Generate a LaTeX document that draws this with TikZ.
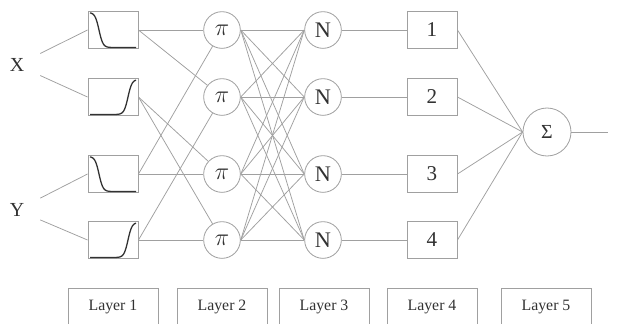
\documentclass[tikz,border=0pt]{standalone}
\usepackage{fontspec}
\setmainfont{Liberation Serif}
\usepackage{tikz}
\definecolor{wire}{RGB}{160,160,160}
\definecolor{ink}{RGB}{50,50,50}

\begin{document}
\begin{tikzpicture}[x=0.03cm,y=-0.03cm,
        wire/.style={draw=wire,line width=0.65pt},
        mfbox/.style={draw=wire,line width=0.8pt,minimum width=1.5cm,minimum height=1.1cm,inner sep=0pt},
        prod/.style={circle,draw=wire,line width=0.7pt,minimum size=1.1cm,inner sep=0pt,text=ink,font=\fontsize{19}{22}\selectfont},
        rulebox/.style={draw=wire,line width=0.8pt,minimum width=1.5cm,minimum height=1.1cm,inner sep=0pt,text=ink,font=\fontsize{18}{21}\selectfont},
        layerbox/.style={draw=wire,line width=0.6pt,minimum width=2.7cm,minimum height=1.14cm,text=ink,font=\fontsize{13.5}{16}\selectfont},
        invar/.style={text=ink,inner xsep=13.5pt,inner ysep=8pt,font=\fontsize{17}{20}\selectfont},
        mf/.style={draw=ink,line width=1.1pt}]
    \useasboundingbox (0,0) rectangle (623,323);

    \node[invar] (inx) at (17,65) {X};
    \node[invar] (iny) at (17,210) {Y};

    \foreach \i/\y in {1/30,2/97,3/174,4/240}{
        \node[mfbox] (a\i) at (113,\y) {};
        \node[prod,font=\fontsize{20}{22}\selectfont] (p\i) at (222,\y) {$\pi$};
        \node[prod] (n\i) at (323,\y) {N};
        \node[rulebox] (r\i) at (432,\y) {\i};
        \draw[wire] (n\i.east) -- (r\i.west);
    }
    \node[prod,minimum size=1.44cm,font=\fontsize{17}{20}\selectfont] (sum) at (547,132) {Σ};
    \coordinate (out) at (608,132);

    \foreach \i in {1,3}
        \draw[mf,shift={(a\i.center)}] plot[domain=-23:23,samples=60] (\x,{-17.5+35/(1+exp(-(\x+14)/2))});
    \foreach \i in {2,4}
        \draw[mf,shift={(a\i.center)}] plot[domain=-23:23,samples=60] (\x,{-17.5+35/(1+exp((\x-15)/2))});

    \draw[wire] (inx) -- (a1.west);
    \draw[wire] (inx) -- (a2.west);
    \draw[wire] (iny) -- (a3.west);
    \draw[wire] (iny) -- (a4.west);

    \foreach \a/\p in {1/1,1/2,2/3,2/4,3/1,3/3,4/2,4/4}
        \draw[wire] (a\a.east) -- (p\p);
    \foreach \i in {1,...,4}
        \foreach \j in {1,...,4}
            \draw[wire] (p\i.east) -- (n\j.west);
    \foreach \i in {1,...,4}
        \draw[wire] (r\i.east) -- (sum.west);
    \draw[wire] (sum) -- (out);

    \foreach \k/\x in {1/113,2/222,3/324,4/432,5/546}
        \node[layerbox] (l\k) at (\x,307) {Layer \k};
\end{tikzpicture}
\end{document}
